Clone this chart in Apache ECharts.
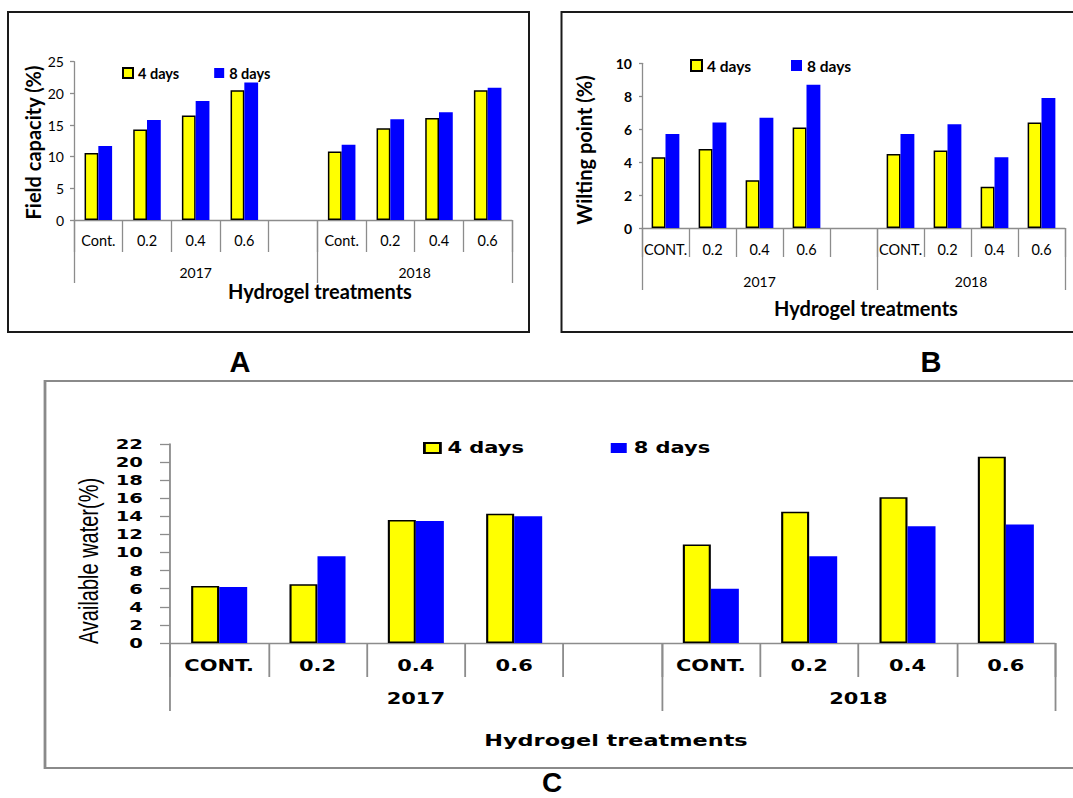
<!DOCTYPE html>
<html><head><meta charset="utf-8">
<script src="https://cdn.jsdelivr.net/npm/echarts@6/dist/echarts.min.js"></script>
<style>
html,body{margin:0;padding:0;background:#fff;overflow:hidden;width:1073px;height:798px}
#ab{position:absolute;left:0;top:0;width:1073px;height:798px}
#c{position:absolute;left:0;top:0;width:767px;height:798px;transform:scaleX(1.39896);transform-origin:0 0}
</style></head>
<body><div id="ab"></div><div id="c"></div>
<script>
// ---------- DATA ----------
const treatmentsA = ['Cont.', '0.2', '0.4', '0.6'];
const treatmentsBC = ['CONT.', '0.2', '0.4', '0.6'];
const years = ['2017', '2018'];
const seriesNames = ['4 days', '8 days'];

// Panel A: Field capacity (%)
const fc4d2017 = [10.6, 14.3, 16.5, 20.5];
const fc4d2018 = [10.8, 14.5, 16.1, 20.5];
const fc8d2017 = [11.7, 15.8, 18.8, 21.7];
const fc8d2018 = [11.9, 15.9, 17.0, 20.9];

// Panel B: Wilting point (%)
const wp4d2017 = [4.3, 4.8, 2.9, 6.1];
const wp4d2018 = [4.5, 4.7, 2.5, 6.4];
const wp8d2017 = [5.7, 6.4, 6.7, 8.7];
const wp8d2018 = [5.7, 6.3, 4.3, 7.9];

// Panel C: Available water (%)
const aw4d2017 = [6.3, 6.5, 13.6, 14.3];
const aw4d2018 = [10.9, 14.5, 16.1, 20.6];
const aw8d2017 = [6.2, 9.6, 13.5, 14.0];
const aw8d2018 = [6.0, 9.6, 12.9, 13.1];

// y-axis tick settings
const yA = {min: 0, max: 25, interval: 5};
const yB = {min: 0, max: 10, interval: 2};
const yC = {min: 0, max: 22, interval: 2};

// ---------- HELPERS ----------
const GREY = '#8c8c8c';
const YELLOW = '#FFFF00', BLUE = '#0000FF';
function cats(t) { return [...t, '', ...t]; }
function joinYears(a, b) { return [...a, '-', ...b]; }
// year groups: first year includes the blank spacer slot
const yearSlots = [treatmentsA.length + 1, treatmentsA.length];
const yearBounds = [0];
yearSlots.forEach(n => yearBounds.push(yearBounds[yearBounds.length - 1] + n));
const yearCenters = yearSlots.map((n, i) => yearBounds[i] + n / 2);

function catAxis(grid, data, font, margin, tickLen) {
  return {gridIndex: grid, type: 'category', data: data,
    axisLine: {show: true, onZero: false, lineStyle: {color: GREY, width: 1.3}},
    axisTick: {show: true, interval: 0, length: tickLen, lineStyle: {color: GREY, width: 1.3}},
    axisLabel: Object.assign({interval: 0, margin: margin}, font),
    splitLine: {show: false}};
}
function yearAxis(grid, font, margin, tickLen) {
  return {gridIndex: grid, type: 'value', position: 'bottom',
    min: yearBounds[0], max: yearBounds[yearBounds.length - 1],
    axisLine: {show: false, onZero: false},
    splitLine: {show: false},
    axisTick: {show: true, customValues: yearBounds, length: tickLen, lineStyle: {color: GREY, width: 1.3}},
    axisLabel: Object.assign({customValues: yearCenters, margin: margin,
      formatter: v => years[yearCenters.indexOf(v)] || ''}, font)};
}
function valAxis(grid, sc, font, margin, tickLen) {
  return {gridIndex: grid, type: 'value', min: sc.min, max: sc.max, interval: sc.interval,
    axisLine: {show: true, onZero: false, lineStyle: {color: GREY, width: 1.3}},
    axisTick: {show: true, length: tickLen, lineStyle: {color: GREY, width: 1.3}},
    splitLine: {show: false},
    axisLabel: Object.assign({margin: margin}, font)};
}
function bars(xi, yi, d4, d8, w) {
  return [
    {type: 'bar', name: seriesNames[0], xAxisIndex: xi, yAxisIndex: yi, data: d4,
     barWidth: w, barGap: '0%', itemStyle: {color: YELLOW, borderColor: '#000', borderWidth: 1.5}},
    {type: 'bar', name: seriesNames[1], xAxisIndex: xi, yAxisIndex: yi, data: d8,
     barWidth: w, barGap: '0%', itemStyle: {color: BLUE}}
  ];
}

// ---------- CHART A + B ----------
const fTick = {fontFamily: 'Lato', fontSize: 14, color: '#000'};
const fCat = {fontFamily: 'Lato', fontSize: 14.5, color: '#000'};
const fYear = {fontFamily: 'Lato', fontSize: 14, color: '#000'};
const fLatoB = {fontFamily: 'Lato', fontSize: 14, fontWeight: 'bold', color: '#000'};
const chartAB = echarts.init(document.getElementById('ab'), null, {renderer: 'svg'});
chartAB.setOption({
  animation: false,
  backgroundColor: '#fff',
  grid: [
    {left: 74, top: 61.7, width: 438, height: 158.3},
    {left: 642, top: 63.3, width: 423, height: 164.7}
  ],
  xAxis: [
    catAxis(0, cats(treatmentsA), fCat, 13, 32),
    catAxis(1, cats(treatmentsBC), fCat, 14, 29),
    yearAxis(0, fYear, 45, 63),
    yearAxis(1, fYear, 46, 62)
  ],
  yAxis: [
    valAxis(0, yA, fTick, 10, 4),
    valAxis(1, yB, Object.assign({}, fTick, {fontWeight: 'bold'}), 10, 3)
  ],
  legend: [
    {left: 122, top: 65, padding: 0, icon: 'rect', itemWidth: 10, itemHeight: 10, itemGap: 35,
     textStyle: Object.assign({lineHeight: 16}, fLatoB, {fontSize: 14.5}), data: seriesNames},
    {left: 690, top: 57.5, padding: 0, icon: 'rect', itemWidth: 11, itemHeight: 11, itemGap: 40,
     textStyle: Object.assign({lineHeight: 16}, fLatoB, {fontSize: 15.5}), data: seriesNames}
  ],
  series: [
    ...bars(0, 0, joinYears(fc4d2017, fc4d2018), joinYears(fc8d2017, fc8d2018), '28.3%'),
    ...bars(1, 1, joinYears(wp4d2017, wp4d2018), joinYears(wp8d2017, wp8d2018), '29.5%')
  ],
  graphic: [
    {type: 'rect', shape: {x: 8, y: 12, width: 521, height: 320}, style: {fill: 'none', stroke: '#1a1a1a', lineWidth: 2}},
    {type: 'rect', shape: {x: 561.5, y: 12, width: 560, height: 320}, style: {fill: 'none', stroke: '#1a1a1a', lineWidth: 2}},
    {type: 'text', x: 33, y: 142.5, rotation: Math.PI / 2,
     style: {text: 'Field capacity (%)', font: 'bold 20px Lato', fill: '#000', align: 'center', verticalAlign: 'middle'}},
    {type: 'text', x: 583.5, y: 150, rotation: Math.PI / 2,
     style: {text: 'Wilting point (%)', font: 'bold 20px Lato', fill: '#000', align: 'center', verticalAlign: 'middle'}},
    {type: 'text', x: 320, y: 291,
     style: {text: 'Hydrogel treatments', font: 'bold 20px Lato', fill: '#000', align: 'center', verticalAlign: 'middle'}},
    {type: 'text', x: 866, y: 308,
     style: {text: 'Hydrogel treatments', font: 'bold 20px Lato', fill: '#000', align: 'center', verticalAlign: 'middle'}},
    {type: 'text', x: 240, y: 362,
     style: {text: 'A', font: 'bold 29px "Liberation Sans"', fill: '#000', align: 'center', verticalAlign: 'middle'}},
    {type: 'text', x: 931, y: 362,
     style: {text: 'B', font: 'bold 29px "Liberation Sans"', fill: '#000', align: 'center', verticalAlign: 'middle'}},
    {type: 'text', x: 552, y: 782,
     style: {text: 'C', font: 'bold 28px "Liberation Sans"', fill: '#000', align: 'center', verticalAlign: 'middle'}}
  ]
});

// ---------- CHART C (drawn narrow, stretched horizontally like the original) ----------
const S = 1073 / 767;
const cx = v => v / S;
const fDV = {fontFamily: '"DejaVu Sans"', fontWeight: 'bold', fontSize: 15, color: '#000'};
const fDVy = {fontFamily: '"DejaVu Sans"', fontWeight: 'bold', fontSize: 14, color: '#000'};
const chartC = echarts.init(document.getElementById('c'), null, {renderer: 'svg'});
chartC.setOption({
  animation: false,
  grid: [{left: cx(170), top: 444, width: cx(885), height: 199}],
  xAxis: [
    catAxis(0, cats(treatmentsBC), fDV, 15, 34),
    yearAxis(0, fDV, 48, 68)
  ],
  yAxis: [valAxis(0, yC, fDVy, cx(27), cx(10))],
  legend: [{left: cx(423), top: 440, padding: 0, icon: 'rect', itemWidth: cx(16), itemHeight: 10, itemGap: 62,
    textStyle: Object.assign({lineHeight: 16}, fDV), data: seriesNames}],
  series: bars(0, 0, joinYears(aw4d2017, aw4d2018), joinYears(aw8d2017, aw8d2018), '28.5%'),
  graphic: [
    {type: 'rect', shape: {x: cx(45), y: 381, width: cx(1100), height: 387},
     style: {fill: 'none', stroke: '#8a8a8a', lineWidth: 2}},
    {type: 'text', x: cx(88), y: 561, rotation: Math.PI / 2,
     style: {text: 'Available water(%)', font: '20px "Liberation Sans"', fill: '#000', align: 'center', verticalAlign: 'middle'}},
    {type: 'text', x: cx(616), y: 741,
     style: {text: 'Hydrogel treatments', font: 'bold 16px "DejaVu Sans"', fill: '#000', align: 'center', verticalAlign: 'middle'}}
  ]
});
</script>
</body></html>
